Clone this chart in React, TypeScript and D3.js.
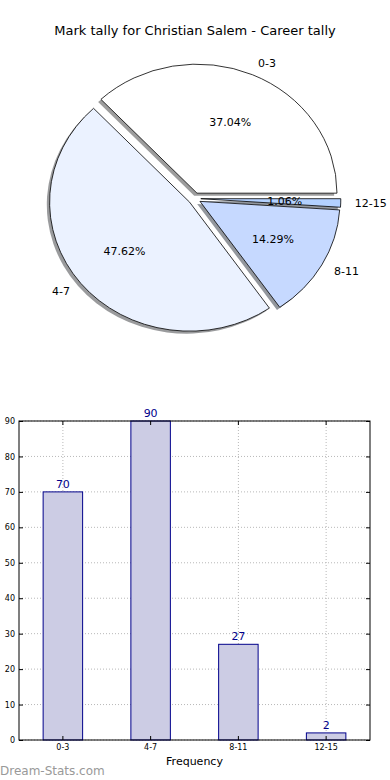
import React, { useEffect, useRef } from 'react';
import * as d3 from 'd3';

// data
const categories = ['0-3', '4-7', '8-11', '12-15'];
const tallies = [70, 90, 27, 2];
const pieColors = ['#ffffff', '#ebf2ff', '#c6d9ff', '#b3d1ff'];
const yTicks = [0, 10, 20, 30, 40, 50, 60, 70, 80, 90];
const title = 'Mark tally for Christian Salem - Career tally';

const FONT = 'DejaVu Sans, sans-serif';

const App = () => {
  const ref = useRef<SVGSVGElement>(null);

  useEffect(() => {
    const svg = d3.select(ref.current);
    svg.selectAll('*').remove();

    svg
      .append('text')
      .attr('x', 195)
      .attr('y', 35)
      .attr('text-anchor', 'middle')
      .attr('font-family', FONT)
      .attr('font-size', 13)
      .attr('fill', '#000')
      .text(title);

    // ---- pie (matplotlib style: ccw from 3 o'clock, exploded, with shadow)
    const cx = 194.5;
    const cy = 198.5;
    const rx = 140;
    const ry = 129;
    const explode = 0.045;
    const total = d3.sum(tallies);

    const arcs = d3
      .pie<number>()
      .sort(null)
      .startAngle(0)
      .endAngle(2 * Math.PI)(tallies);

    const pt = (ox: number, oy: number, r: number, a: number) => [
      ox + r * rx * Math.cos(a),
      oy - r * ry * Math.sin(a),
    ];

    const wedge = (d: d3.PieArcDatum<number>, dx: number, dy: number) => {
      const mid = (d.startAngle + d.endAngle) / 2;
      const [ox, oy] = pt(cx, cy, explode, mid);
      const a = ox + dx;
      const b = oy + dy;
      const [x0, y0] = pt(a, b, 1, d.startAngle);
      const [x1, y1] = pt(a, b, 1, d.endAngle);
      const large = d.endAngle - d.startAngle > Math.PI ? 1 : 0;
      return `M${a},${b}L${x0},${y0}A${rx},${ry} 0 ${large} 0 ${x1},${y1}Z`;
    };

    const pie = svg.append('g');

    pie
      .selectAll('path.shadow')
      .data(arcs)
      .enter()
      .append('path')
      .attr('class', 'shadow')
      .attr('d', (d) => wedge(d, -0.02 * rx, 0.02 * ry))
      .attr('fill', (d, i) => {
        const c = d3.rgb(pieColors[i]);
        return d3.rgb(c.r * 0.3, c.g * 0.3, c.b * 0.3).toString();
      })
      .attr('fill-opacity', 0.55);

    pie
      .selectAll('path.slice')
      .data(arcs)
      .enter()
      .append('path')
      .attr('class', 'slice')
      .attr('d', (d) => wedge(d, 0, 0))
      .attr('fill', (d, i) => pieColors[i])
      .attr('stroke', '#000')
      .attr('stroke-width', 0.8)
      .attr('stroke-linejoin', 'miter');

    // category labels at 1.1 r, percentages at 0.6 r
    arcs.forEach((d, i) => {
      const mid = (d.startAngle + d.endAngle) / 2;
      const [ox, oy] = pt(cx, cy, explode, mid);
      const [lx, ly] = pt(ox, oy, 1.1, mid);
      pie
        .append('text')
        .attr('x', lx)
        .attr('y', ly)
        .attr('dy', '0.35em')
        .attr('text-anchor', Math.cos(mid) > 0 ? 'start' : 'end')
        .attr('font-family', FONT)
        .attr('font-size', 11)
        .attr('fill', '#000')
        .text(categories[i]);
      const [px, py] = pt(ox, oy, 0.6, mid);
      pie
        .append('text')
        .attr('x', px)
        .attr('y', py)
        .attr('dy', '0.35em')
        .attr('text-anchor', 'middle')
        .attr('font-family', FONT)
        .attr('font-size', 11)
        .attr('fill', '#000')
        .text(((100 * tallies[i]) / total).toFixed(2) + '%');
    });

    // ---- bar chart
    const left = 19;
    const right = 370;
    const top = 421;
    const bottom = 740;

    const x = d3
      .scaleBand()
      .domain(categories)
      .range([left, right])
      .paddingInner(0.55)
      .paddingOuter(0.275);
    const y = d3.scaleLinear().domain([0, 90]).range([bottom, top]);

    const chart = svg.append('g');

    // grid
    chart
      .selectAll('line.hgrid')
      .data(yTicks)
      .enter()
      .append('line')
      .attr('x1', left)
      .attr('x2', right)
      .attr('y1', (d) => y(d))
      .attr('y2', (d) => y(d))
      .attr('stroke', '#b8b8b8')
      .attr('stroke-width', 1)
      .attr('stroke-dasharray', '1,2');
    chart
      .selectAll('line.vgrid')
      .data(categories)
      .enter()
      .append('line')
      .attr('x1', (d) => x(d)! + x.bandwidth() / 2)
      .attr('x2', (d) => x(d)! + x.bandwidth() / 2)
      .attr('y1', top)
      .attr('y2', bottom)
      .attr('stroke', '#b8b8b8')
      .attr('stroke-width', 1)
      .attr('stroke-dasharray', '1,2');

    // bars
    chart
      .selectAll('rect.bar')
      .data(tallies)
      .enter()
      .append('rect')
      .attr('class', 'bar')
      .attr('x', (d, i) => x(categories[i])!)
      .attr('y', (d) => y(d))
      .attr('width', x.bandwidth())
      .attr('height', (d) => bottom - y(d))
      .attr('fill', '#cccce4')
      .attr('stroke', '#00008b')
      .attr('stroke-width', 1);

    chart
      .selectAll('text.val')
      .data(tallies)
      .enter()
      .append('text')
      .attr('x', (d, i) => x(categories[i])! + x.bandwidth() / 2)
      .attr('y', (d) => y(d) - 4)
      .attr('text-anchor', 'middle')
      .attr('font-family', FONT)
      .attr('font-size', 11)
      .attr('fill', '#00008b')
      .text((d) => d);

    // axes with inward ticks
    const yAxis = chart
      .append('g')
      .attr('transform', `translate(${left},0)`)
      .call(d3.axisLeft(y).tickValues(yTicks).tickSize(-4).tickPadding(4));
    chart
      .append('g')
      .attr('transform', `translate(${right},0)`)
      .call(d3.axisRight(y).tickValues(yTicks).tickSize(-4).tickFormat(() => ''));
    const xAxis = chart
      .append('g')
      .attr('transform', `translate(0,${bottom})`)
      .call(d3.axisBottom(x).tickSize(-4).tickPadding(4));
    chart
      .append('g')
      .attr('transform', `translate(0,${top})`)
      .call(d3.axisTop(x).tickSize(-4).tickFormat(() => ''));

    chart.selectAll('.domain').remove();
    chart.selectAll('.tick line').attr('stroke', '#000');
    [yAxis, xAxis].forEach((g) =>
      g
        .selectAll('text')
        .attr('font-family', FONT)
        .attr('font-size', 8)
        .attr('fill', '#000')
    );

    chart
      .append('rect')
      .attr('x', left)
      .attr('y', top)
      .attr('width', right - left)
      .attr('height', bottom - top)
      .attr('fill', 'none')
      .attr('stroke', '#000')
      .attr('stroke-width', 1);

    chart
      .append('text')
      .attr('x', (left + right) / 2)
      .attr('y', 765)
      .attr('text-anchor', 'middle')
      .attr('font-family', FONT)
      .attr('font-size', 11)
      .attr('fill', '#000')
      .text('Frequency');

    svg
      .append('text')
      .attr('x', 0)
      .attr('y', 775)
      .attr('font-family', FONT)
      .attr('font-size', 12)
      .attr('fill', '#999')
      .text('Dream-Stats.com');
  }, []);

  return (
    <svg
      ref={ref}
      width={390}
      height={780}
      style={{ position: 'absolute', left: 0, top: 0, background: '#fff' }}
    />
  );
};

export default App;
